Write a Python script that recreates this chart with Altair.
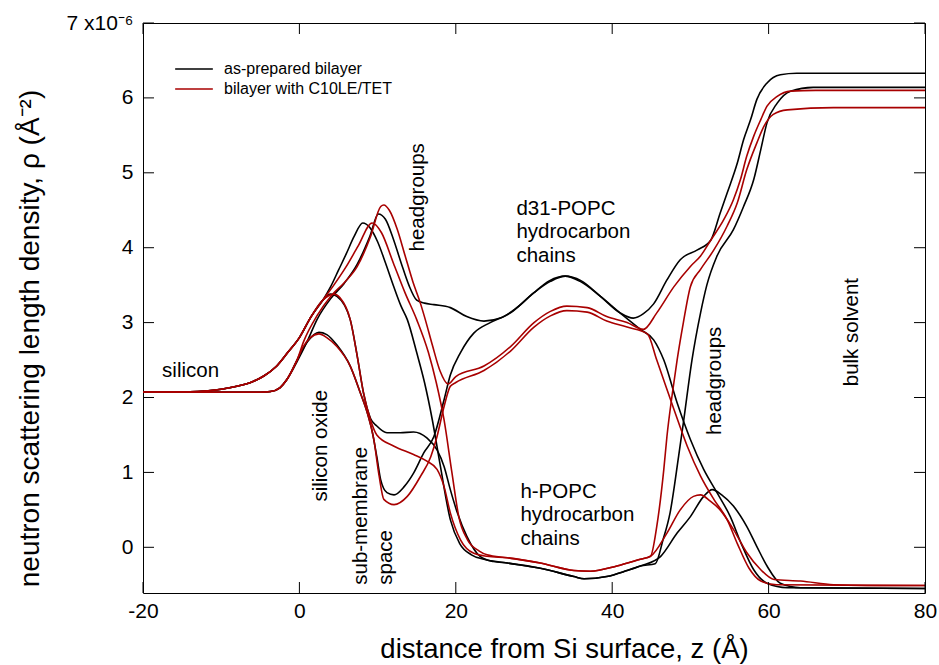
import altair as alt
import pandas as pd

# ---------------- data (z in Angstrom, rho in 1e-6 A^-2) ----------------
SAMPLES = ["as-prepared bilayer", "bilayer with C10LE/TET"]
COLORS = ["#000000", "#a80000"]

BK_H_D2O_Z = [-20, -14, -12, -10, -8, -6, -4.5, -3, -1.5, 0, 1.5, 3, 4, 5, 6, 7, 8.1, 9, 10, 11, 12, 13, 13.8, 15, 16, 17, 18, 19.3, 20.5, 22, 23.6, 26.6, 30.8, 35.1, 36.4, 39.3, 41.9, 43.6, 45.5, 46.5, 47.4, 48.5, 49.1, 50.2, 51.3, 52.1, 53.4, 55.5, 56.8, 58.1, 59, 59.8, 61.1, 62.8, 65.7, 80]
BK_H_D2O_Y = [2.07, 2.075, 2.085, 2.11, 2.15, 2.21, 2.29, 2.41, 2.6, 2.8, 3.08, 3.3, 3.48, 3.7, 3.92, 4.15, 4.33, 4.27, 4.08, 3.8, 3.5, 3.22, 3.04, 2.6, 2.2, 1.7, 1.1, 0.37, 0.05, -0.1, -0.16, -0.21, -0.28, -0.39, -0.42, -0.39, -0.31, -0.25, -0.22, 0.1, 0.46, 1.22, 1.66, 2.5, 3.13, 3.5, 3.89, 4.24, 4.55, 4.91, 5.31, 5.67, 5.93, 6.09, 6.14, 6.14]

BK_H_H2O_Z = [-20, -14, -12, -10, -8, -6, -4.5, -3, -1.5, 0, 1.5, 3, 4, 4.8, 6.5, 7.4, 8.2, 9.1, 9.9, 11.2, 12.9, 14.6, 16.3, 17.6, 18.5, 19.3, 20.2, 21.4, 23.1, 24.8, 26.6, 30.8, 35.1, 36.4, 39.3, 41.9, 43.6, 46.2, 48.3, 50, 51.7, 52.8, 54, 55.5, 57.2, 58.5, 59.8, 61.5, 64.1, 80]
BK_H_H2O_Y = [2.07, 2.075, 2.085, 2.11, 2.15, 2.21, 2.29, 2.41, 2.6, 2.8, 3.08, 3.3, 3.38, 3.35, 3.04, 2.55, 2.06, 1.72, 1.62, 1.53, 1.53, 1.54, 1.46, 1.3, 1.08, 0.77, 0.46, 0.15, -0.12, -0.19, -0.21, -0.28, -0.39, -0.42, -0.39, -0.31, -0.25, -0.12, 0.19, 0.41, 0.68, 0.77, 0.7, 0.55, 0.28, 0.01, -0.25, -0.48, -0.54, -0.55]

BK_D_D2O_Z = [-20, -5, -3.7, -2.5, -1.6, -0.3, 1, 2.3, 4, 5.7, 7.4, 9, 10.1, 11, 12, 13, 14, 15, 16, 17.2, 19.3, 21.4, 23.6, 25.7, 27.8, 30, 32, 34, 36, 38.5, 41, 42.7, 44, 45.3, 47, 48.7, 50.9, 52.6, 53.8, 54.7, 56, 56.8, 57.7, 58.5, 59.8, 61.5, 63.6, 80]
BK_D_D2O_Y = [2.07, 2.07, 2.08, 2.13, 2.24, 2.48, 2.75, 3.05, 3.32, 3.52, 3.78, 4.15, 4.45, 4.38, 4.12, 3.8, 3.5, 3.3, 3.26, 3.24, 3.2, 3.08, 3.02, 3.06, 3.2, 3.4, 3.56, 3.62, 3.56, 3.35, 3.13, 3.06, 3.12, 3.25, 3.57, 3.84, 3.97, 4.1, 4.46, 4.73, 5.13, 5.44, 5.71, 5.98, 6.2, 6.31, 6.33, 6.33]

BK_D_H2O_Z = [-20, -5, -3.7, -2.5, -1.6, -0.3, 1, 2.5, 3.5, 4.8, 6.5, 7.8, 8.7, 9.3, 9.9, 10.4, 11.2, 12.1, 13.4, 14.6, 15.9, 17.2, 18.5, 19.3, 20.6, 22.3, 24.4, 27, 30, 32.1, 34, 35.9, 38.5, 41, 43.6, 45.3, 46.6, 48.3, 50, 51.7, 53.4, 55.1, 56.5, 58.1, 59.8, 62.4, 80]
BK_D_H2O_Y = [2.07, 2.07, 2.08, 2.13, 2.24, 2.5, 2.74, 2.87, 2.84, 2.7, 2.42, 2.06, 1.79, 1.55, 1.21, 0.9, 0.73, 0.7, 0.81, 0.99, 1.26, 1.48, 1.97, 2.3, 2.6, 2.86, 3.0, 3.13, 3.4, 3.55, 3.62, 3.55, 3.35, 3.13, 2.91, 2.77, 2.5, 1.93, 1.44, 1.04, 0.73, 0.41, 0.05, -0.3, -0.48, -0.54, -0.55]

RD_H_D2O_Z = [-20, -14, -12, -10, -8, -6, -4.5, -3, -1.5, 0, 1.5, 3, 4.4, 6, 7.5, 9.3, 10.5, 12, 13.5, 15, 16.5, 17.5, 18.5, 19.5, 20.4, 21.5, 23, 24, 26.6, 30.8, 35.1, 37.2, 40.6, 43.6, 44.9, 45.7, 46.6, 47, 47.7, 48.3, 49.1, 50, 51.3, 53, 54.7, 56, 57.2, 58.5, 59.4, 60.6, 62.4, 68.3, 80]
RD_H_D2O_Y = [2.07, 2.075, 2.085, 2.11, 2.15, 2.21, 2.29, 2.41, 2.6, 2.8, 3.08, 3.3, 3.5, 3.75, 4.02, 4.33, 4.2, 3.8, 3.4, 3.04, 2.6, 2.2, 1.7, 1.0, 0.4, 0.1, -0.05, -0.1, -0.14, -0.21, -0.31, -0.32, -0.25, -0.16, -0.12, 0.28, 1.04, 1.48, 2.06, 2.5, 3.0, 3.48, 3.71, 3.97, 4.29, 4.6, 5.04, 5.4, 5.62, 5.78, 5.84, 5.87, 5.87]

RD_H_H2O_Z = [-20, -14, -12, -10, -8, -6, -4.5, -3, -1.5, 0, 1.5, 3, 4.4, 5.2, 6.5, 7.4, 8.2, 9.1, 9.9, 12.1, 14.6, 16.3, 17.6, 18.5, 19.3, 20.6, 22.3, 24, 26.6, 30.8, 35.1, 37.2, 40.6, 43.6, 44.9, 47, 48.7, 50.4, 51.3, 52.5, 53.8, 55.5, 57.2, 59, 60.7, 64.1, 68.3, 72.6, 80]
RD_H_H2O_Y = [2.07, 2.075, 2.085, 2.11, 2.15, 2.21, 2.29, 2.41, 2.6, 2.8, 3.08, 3.3, 3.38, 3.33, 3.04, 2.55, 2.06, 1.7, 1.5, 1.35, 1.24, 1.15, 1.04, 0.81, 0.46, 0.1, -0.08, -0.12, -0.14, -0.21, -0.31, -0.32, -0.25, -0.16, -0.12, 0.19, 0.5, 0.68, 0.7, 0.62, 0.5, 0.24, -0.07, -0.3, -0.43, -0.45, -0.5, -0.51, -0.51]

RD_D_D2O_Z = [-20, -5, -3.7, -2.5, -1.6, -0.3, 0.55, 2.3, 4, 5.7, 7.4, 9.1, 10.4, 10.8, 11.5, 12.5, 13.5, 14.5, 15.5, 16.1, 17, 18, 19, 20, 23.6, 27, 30, 32.1, 34.2, 36.8, 39.3, 41.9, 44, 45.7, 47.9, 50, 51.3, 52.6, 54.3, 55.5, 56.4, 57.2, 58.1, 59, 59.8, 61.1, 62.8, 66, 80]
RD_D_D2O_Y = [2.07, 2.07, 2.08, 2.13, 2.24, 2.5, 2.75, 3.1, 3.35, 3.53, 3.75, 4.15, 4.55, 4.57, 4.5, 4.25, 3.9, 3.55, 3.25, 3.04, 2.7, 2.35, 2.18, 2.28, 2.42, 2.68, 3.0, 3.15, 3.22, 3.2, 3.08, 3.0, 2.91, 3.13, 3.48, 3.75, 3.89, 4.1, 4.38, 4.64, 4.91, 5.22, 5.49, 5.71, 5.89, 6.02, 6.09, 6.1, 6.1]

RD_D_H2O_Z = [-20, -5, -3.7, -2.5, -1.6, -0.3, 0.5, 1.4, 2.5, 3.5, 4.8, 6.5, 7.8, 8.7, 9.5, 10.2, 10.8, 12.1, 13.8, 15.5, 16.8, 17.6, 18.5, 19.3, 20, 23.6, 27, 30, 32.1, 34.2, 36.8, 39.3, 41.9, 44.5, 45.7, 47.9, 49.6, 51.3, 53, 54.7, 56, 57.5, 59, 61, 80]
RD_D_H2O_Y = [2.07, 2.07, 2.08, 2.13, 2.24, 2.5, 2.68, 2.8, 2.85, 2.8, 2.68, 2.42, 2.06, 1.79, 1.45, 0.95, 0.64, 0.57, 0.68, 0.95, 1.21, 1.48, 1.88, 2.15, 2.2, 2.36, 2.62, 2.94, 3.09, 3.16, 3.14, 3.02, 2.94, 2.85, 2.5, 1.84, 1.35, 0.95, 0.64, 0.37, 0.05, -0.28, -0.45, -0.5, -0.51]

X_TICKS = [-20, 0, 20, 40, 60, 80]
Y_TICKS = [0, 1, 2, 3, 4, 5, 6, 7]

# annotations
H_LABELS = ["silicon", "d31-POPC\nhydrocarbon\nchains", "h-POPC\nhydrocarbon\nchains"]
H_Z = [-17.56, 27.75, 28.26]
H_Y = [2.28, 4.44, 0.66]

V_LABELS = ["headgroups", "headgroups", "bulk solvent", "silicon oxide", "sub-membrane", "space"]
V_Z = [15.2, 53.1, 70.7, 2.7, 7.93, 11.1]
V_Y = [3.95, 1.50, 2.15, 0.61, -0.50, -0.50]

# ---------------- build table ----------------
curves = [
    (SAMPLES[0], "bk_h_d2o", BK_H_D2O_Z, BK_H_D2O_Y),
    (SAMPLES[0], "bk_h_h2o", BK_H_H2O_Z, BK_H_H2O_Y),
    (SAMPLES[0], "bk_d_d2o", BK_D_D2O_Z, BK_D_D2O_Y),
    (SAMPLES[0], "bk_d_h2o", BK_D_H2O_Z, BK_D_H2O_Y),
    (SAMPLES[1], "rd_h_d2o", RD_H_D2O_Z, RD_H_D2O_Y),
    (SAMPLES[1], "rd_h_h2o", RD_H_H2O_Z, RD_H_H2O_Y),
    (SAMPLES[1], "rd_d_d2o", RD_D_D2O_Z, RD_D_D2O_Y),
    (SAMPLES[1], "rd_d_h2o", RD_D_H2O_Z, RD_D_H2O_Y),
]
rows = []
for k, (s, cid, zs, ys_) in enumerate(curves):
    assert len(zs) == len(ys_), cid
    for i, (z, r) in enumerate(zip(zs, ys_)):
        rows.append({"sample": s, "curve": f"{k}_{cid}", "z": z, "rho": r, "i": i})
df = pd.DataFrame(rows)

FONT = "Liberation Sans"
W, H = 782, 570
xs = alt.Scale(domain=[-20, 80], nice=False, zero=False)
ys = alt.Scale(domain=[-0.61, 7.0], nice=False, zero=False)

X_AXIS = alt.Axis(
    values=X_TICKS, title="distance from Si surface, z (Å)", ticks=False, tickSize=0,
    domain=False, grid=False, labelFontSize=21, labelFont=FONT, labelPadding=7,
    labelColor="#000", labelExpr="datum.value < 0 ? '-' + abs(datum.value) : datum.label",
    titleFont=FONT, titleFontSize=27.5, titleFontWeight="normal",
    titleColor="#000", titleX=421, titleY=64, titleBaseline="alphabetic",
    titleAnchor="middle", labelFlush=False)
Y_AXIS = alt.Axis(
    values=Y_TICKS, title="neutron scattering length density,  ρ (Å⁻²)", ticks=False,
    tickSize=0, domain=False, grid=False, labelFontSize=21, labelFont=FONT,
    labelPadding=10, labelColor="#000",
    labelExpr="datum.value == 7 ? '7 x10⁻⁶' : datum.label",
    titleFont=FONT, titleFontSize=28, titleFontWeight="normal", titleColor="#000",
    titleAngle=270, titleX=-105, titleY=315, titleBaseline="alphabetic",
    titleAlign="center", labelFlush=False)

lines = alt.Chart(df).mark_line(interpolate="monotone", strokeWidth=1.6).encode(
    x=alt.X("z:Q", scale=xs, axis=X_AXIS),
    y=alt.Y("rho:Q", scale=ys, axis=Y_AXIS),
    color=alt.Color("sample:N", scale=alt.Scale(domain=SAMPLES, range=COLORS),
                    legend=alt.Legend(title=None, orient="none", legendX=31, legendY=38,
                                      symbolType="stroke", symbolSize=1420,
                                      symbolStrokeWidth=1.6, clipHeight=16,
                                      rowPadding=4, labelFontSize=16, labelFont=FONT,
                                      labelColor="#000", labelOffset=10, padding=0,
                                      labelLimit=500)),
    detail="curve:N",
    order="i:Q",
)

hdf = pd.DataFrame({"t": H_LABELS, "z": H_Z, "rho": H_Y})
htext = alt.Chart(hdf).mark_text(align="left", baseline="alphabetic", fontSize=20.5,
                                 font=FONT, lineBreak="\n", lineHeight=23.6,
                                 color="#000").encode(
    x=alt.X("z:Q", scale=xs, axis=X_AXIS), y=alt.Y("rho:Q", scale=ys, axis=Y_AXIS),
    text="t:N")

vdf = pd.DataFrame({"t": V_LABELS, "z": V_Z, "rho": V_Y})
vtext = alt.Chart(vdf).mark_text(align="left", baseline="middle", angle=270, fontSize=20.5,
                                 font=FONT, color="#000").encode(
    x=alt.X("z:Q", scale=xs, axis=X_AXIS), y=alt.Y("rho:Q", scale=ys, axis=Y_AXIS),
    text="t:N")

# inward ticks on all four sides
ydf = pd.DataFrame({"rho": Y_TICKS})
xdf = pd.DataFrame({"z": X_TICKS})
TL = 11
tick_l = alt.Chart(ydf).mark_rule(color="#000", strokeWidth=1).encode(
    y=alt.Y("rho:Q", scale=ys, axis=Y_AXIS), x=alt.value(0), x2=alt.value(TL))
tick_r = alt.Chart(ydf).mark_rule(color="#000", strokeWidth=1).encode(
    y=alt.Y("rho:Q", scale=ys, axis=Y_AXIS), x=alt.value(W - TL), x2=alt.value(W))
tick_b = alt.Chart(xdf).mark_rule(color="#000", strokeWidth=1).encode(
    x=alt.X("z:Q", scale=xs, axis=X_AXIS), y=alt.value(H), y2=alt.value(H - TL))
tick_t = alt.Chart(xdf).mark_rule(color="#000", strokeWidth=1).encode(
    x=alt.X("z:Q", scale=xs, axis=X_AXIS), y=alt.value(0), y2=alt.value(TL))

chart = alt.layer(lines, htext, vtext, tick_l, tick_r, tick_b, tick_t).properties(
    width=W, height=H,
    padding={"left": 143, "top": 23, "right": 14, "bottom": 72},
    autosize=alt.AutoSizeParams(type="none"),
    background="white",
).configure_view(stroke="#000", strokeWidth=1)

chart.save("out.html", embed_options={"renderer": "svg", "actions": False})
